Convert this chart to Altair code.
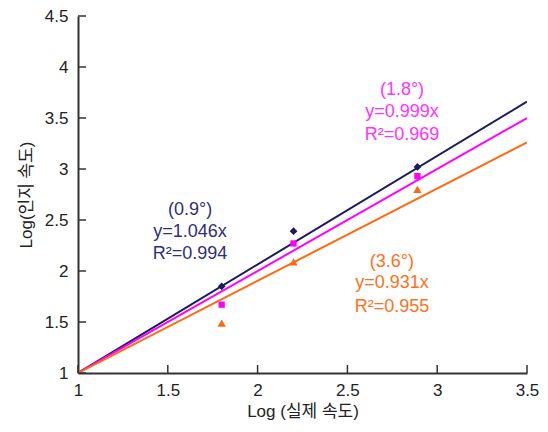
import altair as alt
import pandas as pd

# ---- data ----
series = ["0.9°", "1.8°", "3.6°"]
x_points = [1.80, 2.20, 2.89]
y_09 = [1.85, 2.39, 3.02]
y_18 = [1.67, 2.27, 2.93]
y_36 = [1.49, 2.09, 2.80]

# fitted lines (start/end)
line_x = [1.0, 3.5]
line_09 = [1.0, 3.66]
line_18 = [1.0, 3.50]
line_36 = [1.0, 3.26]

ann_lines_09 = ["(0.9°)", "y=1.046x", "R²=0.994"]
ann_lines_18 = ["(1.8°)", "y=0.999x", "R²=0.969"]
ann_lines_36 = ["(3.6°)", "y=0.931x", "R²=0.955"]
ann_pos_09 = (1.624, [2.60, 2.384, 2.17])
ann_pos_18 = (2.804, [3.777, 3.561, 3.336])
ann_pos_36 = (2.748, [2.089, 1.883, 1.648])

x_ticks = [1, 1.5, 2, 2.5, 3, 3.5]
y_ticks = [1, 1.5, 2, 2.5, 3, 3.5, 4, 4.5]

line_colors = ["#1b1b5e", "#ff00ff", "#ff6a10"]
text_colors = ["#2e2e80", "#ff33ff", "#ff7020"]
shapes = ["diamond", "square", "triangle-up"]
sizes = [60, 40, 70]

FONT = "Liberation Sans, Arial, Noto Sans CJK KR"
W, H = 449, 357

# ---- tables ----
lines = pd.DataFrame({
    "x": line_x * 3,
    "y": line_09 + line_18 + line_36,
    "s": [s for s in series for _ in line_x],
})
ann_rows = []
for s, txt, pos in zip(series, [ann_lines_09, ann_lines_18, ann_lines_36],
                       [ann_pos_09, ann_pos_18, ann_pos_36]):
    for t, yy in zip(txt, pos[1]):
        ann_rows.append({"x": pos[0], "y": yy, "t": t, "s": s})
ann = pd.DataFrame(ann_rows)

xs = alt.Scale(domain=[1, 3.5], nice=False, zero=False)
ys = alt.Scale(domain=[1, 4.5], nice=False, zero=False)
col_line = alt.Scale(domain=series, range=line_colors)
col_text = alt.Scale(domain=series, range=text_colors)

base_x = alt.X("x:Q", scale=xs, axis=alt.Axis(
    title="Log (실제 속도)", values=x_ticks, format="~g", grid=False, tickSize=0,
    labelPadding=9, labelFlush=False, titlePadding=5, domainColor="#333333",
    domainWidth=2, labelFontSize=17, titleFontSize=17, labelColor="#222222",
    titleColor="#222222", titleFontWeight="normal", labelFont=FONT, titleFont=FONT))
base_y = alt.Y("y:Q", scale=ys, axis=alt.Axis(
    title="Log(인지 속도)", values=y_ticks, format="~g", grid=False, tickSize=0,
    labelPadding=10, labelFlush=False, titlePadding=9, domainColor="#333333",
    domainWidth=2, labelFontSize=17, titleFontSize=17, labelColor="#222222",
    titleColor="#222222", titleFontWeight="normal", labelFont=FONT, titleFont=FONT))

line_layer = alt.Chart(lines).mark_line(strokeWidth=2, clip=True).encode(
    x=base_x, y=base_y,
    color=alt.Color("s:N", scale=col_line, legend=None),
    detail="s:N",
)

point_layers = []
for yv, c, shp, sz in zip([y_09, y_18, y_36], line_colors, shapes, sizes):
    df = pd.DataFrame({"x": x_points, "y": yv})
    point_layers.append(
        alt.Chart(df).mark_point(filled=True, opacity=1, color=c, shape=shp, size=sz).encode(
            x=alt.X("x:Q", scale=xs), y=alt.Y("y:Q", scale=ys)))

text_layer = alt.Chart(ann).mark_text(fontSize=18, font=FONT, align="center",
                                      baseline="middle").encode(
    x=alt.X("x:Q", scale=xs),
    y=alt.Y("y:Q", scale=ys),
    text="t:N",
    color=alt.Color("s:N", scale=col_text, legend=None),
)

# inward ticks
yt = pd.DataFrame({"v": y_ticks})
xt = pd.DataFrame({"v": x_ticks})
ytick_layer = alt.Chart(yt).mark_rule(color="#333333", strokeWidth=1.5).encode(
    y=alt.Y("v:Q", scale=ys), x=alt.value(0), x2=alt.value(8))
xtick_layer = alt.Chart(xt).mark_rule(color="#333333", strokeWidth=1.5).encode(
    x=alt.X("v:Q", scale=xs), y=alt.value(H), y2=alt.value(H - 8))

chart = alt.layer(line_layer, *point_layers, text_layer, ytick_layer, xtick_layer).resolve_scale(
    color="independent"
).properties(
    width=W, height=H,
    autosize=alt.AutoSizeParams(type="none"),
    padding={"left": 78, "top": 16, "right": 21, "bottom": 59},
    background="white",
).configure_view(stroke=None)

chart.save("out.html", embed_options={"renderer": "svg", "actions": False})
